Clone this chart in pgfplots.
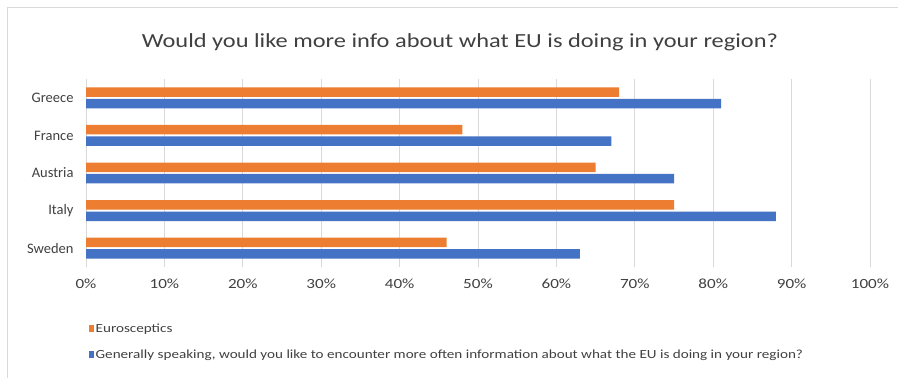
\documentclass[border=0pt]{standalone}
\usepackage{pgfplots}
\pgfplotsset{compat=1.18}
\usepackage{fontspec}
\setmainfont{Carlito}
\newfontfamily\wide{Carlito}[FakeStretch=1.22]
\definecolor{cblue}{HTML}{4472C4}
\definecolor{corange}{HTML}{ED7D31}
\definecolor{cgrid}{HTML}{D9D9D9}
\begin{document}
\begin{tikzpicture}
\path[use as bounding box] (-86bp,-111bp) rectangle (812bp,267bp);
\draw[cgrid, line width=1bp] (-78bp,-115bp) -- (-78bp,259bp) -- (820bp,259bp);
\node[font=\wide\fontsize{20bp}{24bp}\selectfont, text=black!75] at (374bp,225bp) {Would you like more info about what EU is doing in your region?};
\begin{axis}[
  scale only axis,
  width=784bp, height=188bp,
  xbar, bar width=9.5bp, bar shift auto,
  xmin=0, xmax=100,
  ymin=-0.5, ymax=4.5,
  ytick={0,1,2,3,4},
  yticklabels={Sweden,Italy,Austria,France,Greece},
  xtick={0,10,...,100},
  xticklabel={\pgfmathprintnumber{\tick}\%},
  /pgf/number format/assume math mode=true,
  yticklabel style={font=\fontsize{14.5bp}{16bp}\selectfont, text=black!75, xshift=-9bp},
  xticklabel style={font=\wide\fontsize{14bp}{16bp}\selectfont, text=black!75, yshift=-8bp},
  xmajorgrids, grid style={cgrid, line width=1bp},
  axis line style={draw=none},
  major tick length=0pt,
  legend style={at={(0.0,-0.28)}, anchor=north west, draw=none, fill=none,
    font=\wide\fontsize{12.4bp}{15bp}\selectfont, text=black!75, row sep=12bp,
    legend cell align=left},
  legend image code/.code={\fill[#1] (0bp,-3.5bp) rectangle (4.5bp,3.5bp);},
  reverse legend,
]
\addplot[draw=none, fill=cblue] coordinates {(63,0) (88,1) (75,2) (67,3) (81,4)};
\addlegendentry{Generally speaking, would you like to encounter more often information about what the EU is doing in your region?}
\addplot[draw=none, fill=corange] coordinates {(46,0) (75,1) (65,2) (48,3) (68,4)};
\addlegendentry{Eurosceptics}
\end{axis}
\end{tikzpicture}
\end{document}
